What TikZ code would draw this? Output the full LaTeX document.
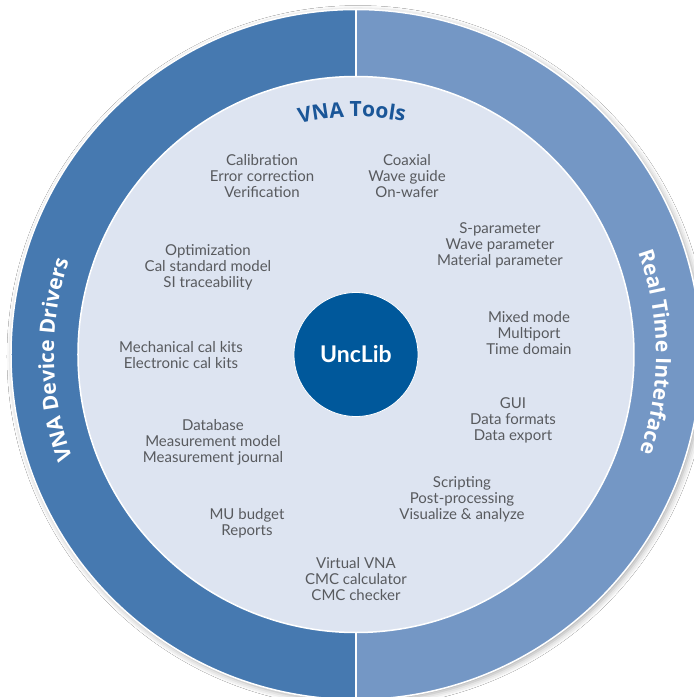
\documentclass[tikz,border=0pt]{standalone}
\usepackage{fontspec}
\setmainfont{Lato}
\newfontfamily\ringfont{Open Sans}
\usetikzlibrary{decorations.text,shadows.blur}

\definecolor{leftring}{RGB}{70,121,176}
\definecolor{rightring}{RGB}{116,151,197}
\definecolor{innerfill}{RGB}{221,228,241}
\definecolor{corefill}{RGB}{0,88,155}
\definecolor{toolsblue}{RGB}{26,86,152}
\definecolor{itemgray}{RGB}{88,90,94}

\tikzset{
	ringtext/.style 2 args={decorate, decoration={text along path, text align=center, text color=#1, text={|\ringfont\fontsize{21}{24}\selectfont\bfseries|#2}}},
	itemlist/.style={align=center, text=itemgray, font=\fontsize{15}{16}\selectfont},
}

\begin{document}
\begin{tikzpicture}[x=1pt,y=1pt]
		\fill[white] (-356,-342.5) rectangle (338,354.5);
		\useasboundingbox (-356,-342.5) rectangle (338,354.5);

		\fill[leftring, blur shadow={shadow xshift=2pt, shadow yshift=-2pt, shadow blur radius=6pt, shadow opacity=35}] (0,0) circle[radius=345];
		\fill[rightring] (0,-345) arc[start angle=-90, end angle=90, radius=345] -- cycle;
		\draw[white, line width=1.5pt] (0,0) circle[radius=345];
		\draw[white, line width=1.5pt] (0,-345) -- (0,345);
		\fill[innerfill] (0,0) circle[radius=278];
		\draw[white, line width=1.5pt] (0,0) circle[radius=278];

		\path[ringtext={white}{VNA Device Drivers}] (0,0) ++(241:302) arc[start angle=241, end angle=121, radius=302];
		\path[ringtext={white}{Real Time Interface}] (0,0) ++(60.5:300) arc[start angle=60.5, end angle=-59.5, radius=300];
		\path[ringtext={toolsblue}{VNA Tools}] (0,0) ++(151:237.5) arc[start angle=151, end angle=31, radius=237.5];

		\node[circle, fill=corefill, draw=white, line width=0.8pt, minimum size=124pt, text=white, font=\fontsize{23}{26}\selectfont\bfseries] (unclib) at (0,0) {UncLib};

		\begin{scope}[every node/.append style={itemlist}]
			\node (cal) at (-94, 178.5) {Calibration\\Error correction\\Verification};
			\node (coax) at (51, 178.5) {Coaxial\\Wave guide\\On-wafer};
			\node (optim) at (-148, 87.5) {Optimization\\Cal standard model\\SI traceability};
			\node (sparam) at (144, 109.5) {S-parameter\\Wave parameter\\Material parameter};
			\node (kits) at (-175, -0.5) {Mechanical cal kits\\Electronic cal kits};
			\node (mixed) at (173, 21.5) {Mixed mode\\Multiport\\Time domain};
			\node (db) at (-143, -87.5) {Database\\Measurement model\\Measurement journal};
			\node (gui) at (157, -65.5) {GUI\\Data formats\\Data export};
			\node (mu) at (-109, -168.5) {MU budget\\Reports};
			\node (script) at (106, -144.5) {Scripting\\Post-processing\\Visualize \& analyze};
			\node (virtual) at (0, -224.5) {Virtual VNA\\CMC calculator\\CMC checker};
		\end{scope}
	\end{tikzpicture}
\end{document}
